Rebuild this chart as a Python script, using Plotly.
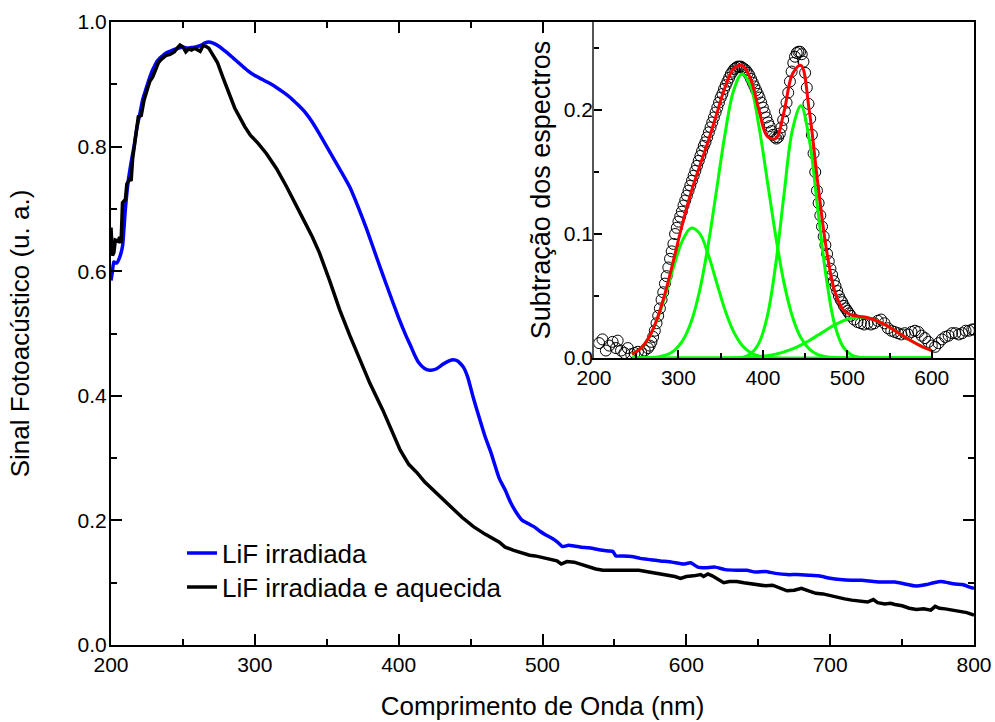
import plotly.graph_objects as go

# ---------------- main spectra ----------------
blue_x = [200, 201, 202, 204, 206, 208, 210, 212, 214, 216, 218, 220, 222, 224, 226, 228, 230, 232, 235, 238,
          241, 244, 247, 250, 253, 256, 259, 262, 265, 268, 271, 275, 280, 285, 290, 295, 300, 305, 310, 315,
          320, 325, 330, 335, 340, 345, 350, 355, 360, 366, 372, 378, 385, 392, 400, 405, 408, 411, 414, 418,
          422, 426, 431, 435, 438, 441, 445, 448, 452, 456, 460, 464, 470, 474, 478, 482, 486, 490, 494, 498,
          502, 506, 510, 514, 518, 522, 527, 532, 537, 542, 546, 549, 551, 556, 562, 568, 575, 582, 590, 598,
          603, 608, 613, 620, 627, 635, 642, 648, 655, 662, 670, 677, 685, 692, 700, 707, 715, 722, 730, 737,
          745, 752, 758, 762, 767, 772, 777, 782, 787, 792, 797, 800]
blue_y = [0.585, 0.600, 0.615, 0.613, 0.622, 0.640, 0.700, 0.745, 0.775, 0.800, 0.830, 0.852, 0.875, 0.890, 0.905, 0.918, 0.928, 0.937, 0.944, 0.950,
          0.953, 0.956, 0.958, 0.960, 0.958, 0.959, 0.960, 0.962, 0.966, 0.968, 0.966, 0.961, 0.952, 0.942, 0.932, 0.922, 0.914, 0.908, 0.902, 0.895,
          0.887, 0.878, 0.867, 0.855, 0.839, 0.820, 0.800, 0.780, 0.760, 0.735, 0.702, 0.666, 0.620, 0.575, 0.525, 0.497, 0.482, 0.466, 0.453, 0.444,
          0.441, 0.443, 0.451, 0.456, 0.458, 0.456, 0.446, 0.430, 0.396, 0.365, 0.335, 0.310, 0.267, 0.249, 0.228, 0.212, 0.200, 0.195, 0.190, 0.183,
          0.177, 0.172, 0.166, 0.158, 0.160, 0.159, 0.157, 0.156, 0.154, 0.152, 0.151, 0.150, 0.143, 0.143, 0.142, 0.139, 0.137, 0.135, 0.133, 0.130,
          0.132, 0.125, 0.124, 0.125, 0.121, 0.120, 0.120, 0.117, 0.118, 0.115, 0.113, 0.113, 0.112, 0.111, 0.107, 0.105, 0.104, 0.104, 0.102, 0.101,
          0.101, 0.098, 0.095, 0.095, 0.097, 0.100, 0.102, 0.100, 0.098, 0.097, 0.093, 0.091]

black_x = [200, 201, 202, 203, 205, 206, 207, 208, 210, 211, 213, 214, 215, 217, 219, 221, 223, 225, 227, 229,
           231, 233, 235, 238, 241, 244, 246, 248, 250, 252, 254, 256, 258, 260, 262, 264, 266, 268, 270, 274,
           278, 282, 286, 290, 293, 297, 302, 308, 315, 322, 328, 334, 340, 345, 352, 359, 366, 373, 380, 389,
           395, 401, 407, 413, 418, 424, 430, 436, 444, 452, 460, 470, 474, 480, 485, 491, 495, 500, 505, 510,
           513, 517, 522, 527, 532, 537, 542, 547, 552, 557, 562, 567, 572, 577, 582, 587, 592, 596, 600, 605,
           610, 612, 615, 618, 622, 626, 630, 635, 640, 645, 650, 655, 660, 665, 670, 675, 680, 685, 690, 695,
           700, 705, 710, 715, 720, 726, 730, 733, 738, 742, 745, 750, 755, 760, 765, 770, 773, 776, 780, 785,
           790, 795, 800]
black_y = [0.670, 0.625, 0.630, 0.650, 0.648, 0.655, 0.645, 0.710, 0.715, 0.740, 0.748, 0.745, 0.780, 0.810, 0.848, 0.850, 0.875, 0.890, 0.905, 0.912,
           0.922, 0.935, 0.940, 0.946, 0.948, 0.952, 0.958, 0.963, 0.960, 0.952, 0.957, 0.955, 0.958, 0.956, 0.953, 0.962, 0.961, 0.958, 0.950, 0.935,
           0.910, 0.885, 0.862, 0.845, 0.832, 0.818, 0.806, 0.789, 0.765, 0.736, 0.710, 0.682, 0.655, 0.629, 0.585, 0.538, 0.497, 0.457, 0.420, 0.377,
           0.345, 0.313, 0.290, 0.276, 0.262, 0.249, 0.236, 0.222, 0.205, 0.190, 0.178, 0.165, 0.157, 0.152, 0.148, 0.144, 0.143, 0.140, 0.137, 0.135,
           0.130, 0.134, 0.133, 0.129, 0.126, 0.122, 0.120, 0.120, 0.121, 0.120, 0.121, 0.120, 0.118, 0.116, 0.114, 0.112, 0.110, 0.107, 0.110, 0.111,
           0.113, 0.110, 0.114, 0.111, 0.106, 0.100, 0.102, 0.102, 0.100, 0.098, 0.097, 0.095, 0.096, 0.092, 0.087, 0.088, 0.091, 0.087, 0.083, 0.082,
           0.079, 0.077, 0.074, 0.072, 0.071, 0.069, 0.073, 0.068, 0.066, 0.067, 0.065, 0.063, 0.059, 0.057, 0.058, 0.056, 0.062, 0.059, 0.058, 0.056,
           0.054, 0.052, 0.048]

# ---------------- inset: difference spectrum ----------------
diff_x = [206, 210, 214, 218, 222, 226, 228, 232, 236, 240, 244, 248, 252, 256, 260, 264, 266, 268, 270, 272,
          274, 276, 278, 280, 282, 284, 286, 288, 290, 292, 294, 296, 298, 300, 302, 304, 306, 308, 310, 312,
          314, 316, 318, 320, 322, 324, 326, 328, 330, 332, 334, 336, 338, 340, 342, 344, 346, 348, 350, 352,
          354, 356, 358, 360, 362, 364, 366, 368, 370, 372, 374, 376, 378, 380, 382, 384, 386, 388, 390, 392,
          394, 396, 398, 400, 402, 404, 406, 408, 410, 412, 414, 416, 418, 420, 422, 424, 426, 428, 430, 432,
          434, 436, 438, 440, 442, 444, 446, 448, 450, 452, 454, 456, 458, 460, 462, 464, 466, 468, 470, 472,
          474, 476, 478, 480, 482, 484, 486, 488, 490, 492, 494, 496, 498, 500, 502, 504, 508, 512, 516, 520,
          524, 528, 532, 536, 540, 544, 548, 552, 556, 560, 564, 568, 572, 576, 580, 584, 588, 592, 596, 600,
          604, 608, 612, 616, 620, 624, 628, 632, 636, 640, 644, 648, 650]
diff_y = [0.012, 0.015, 0.006, 0.010, 0.013, 0.008, 0.014, 0.006, 0.004, 0.008, 0.003, 0.004, 0.005, 0.004, 0.006, 0.008, 0.010, 0.013, 0.017, 0.022,
          0.028, 0.034, 0.040, 0.047, 0.053, 0.060, 0.066, 0.073, 0.080, 0.086, 0.092, 0.100, 0.105, 0.110, 0.114, 0.118, 0.123, 0.127, 0.131, 0.135,
          0.139, 0.143, 0.147, 0.151, 0.155, 0.159, 0.163, 0.167, 0.171, 0.174, 0.178, 0.182, 0.186, 0.190, 0.194, 0.198, 0.202, 0.206, 0.210, 0.213,
          0.217, 0.220, 0.223, 0.226, 0.229, 0.231, 0.233, 0.234, 0.235, 0.235, 0.235, 0.234, 0.233, 0.232, 0.230, 0.228, 0.225, 0.222, 0.219, 0.216,
          0.213, 0.210, 0.206, 0.202, 0.198, 0.194, 0.190, 0.187, 0.183, 0.180, 0.178, 0.177, 0.178, 0.181, 0.186, 0.192, 0.199, 0.206, 0.214, 0.223,
          0.231, 0.238, 0.243, 0.246, 0.247, 0.247, 0.245, 0.239, 0.230, 0.218, 0.205, 0.193, 0.180, 0.165, 0.150, 0.135, 0.125, 0.115, 0.106, 0.098,
          0.091, 0.084, 0.078, 0.072, 0.067, 0.062, 0.058, 0.054, 0.050, 0.047, 0.045, 0.042, 0.040, 0.038, 0.036, 0.034, 0.031, 0.029, 0.028, 0.027,
          0.028, 0.027, 0.028, 0.030, 0.031, 0.028, 0.024, 0.022, 0.021, 0.020, 0.019, 0.020, 0.019, 0.021, 0.022, 0.021, 0.018, 0.016, 0.013, 0.010,
          0.009, 0.012, 0.015, 0.017, 0.018, 0.020, 0.020, 0.019, 0.020, 0.022, 0.022, 0.023, 0.023]

fit_x = [245, 255, 265, 275, 285, 295, 305, 315, 325, 335, 345, 355, 365, 375, 385, 395, 405, 415, 425, 435,
         445, 455, 465, 475, 485, 495, 505, 515, 525, 535, 545, 555, 565, 575, 585, 595, 600]
peak1_y = [0.003, 0.0075, 0.0164, 0.0313, 0.052, 0.0753, 0.0951, 0.1047, 0.1005, 0.084, 0.0613, 0.039, 0.0216, 0.0105, 0.0044, 0.0016, 0.0005, 0.0001, 0, 0,
           0, 0, 0, 0, 0, 0, 0, 0, 0, 0, 0, 0, 0, 0, 0, 0, 0]
peak2_y = [0, 0.0001, 0.0002, 0.0008, 0.0023, 0.006, 0.014, 0.029, 0.054, 0.0904, 0.135, 0.180, 0.215, 0.229, 0.220, 0.188, 0.144, 0.099, 0.0606, 0.0333,
           0.0163, 0.0072, 0.0028, 0.001, 0.0003, 0.0001, 0, 0, 0, 0, 0, 0, 0, 0, 0, 0, 0]
peak3_y = [0, 0, 0, 0, 0, 0, 0, 0, 0, 0, 0, 0, 0, 0.0003, 0.0032, 0.0116, 0.033, 0.0746, 0.132, 0.184,
           0.2035, 0.176, 0.12, 0.065, 0.027, 0.009, 0.0024, 0.0005, 0.0001, 0, 0, 0, 0, 0, 0, 0, 0]
peak4_y = [0, 0, 0, 0, 0, 0, 0, 0, 0, 0, 0, 0, 0.0001, 0.0003, 0.0006, 0.0011, 0.0019, 0.0031, 0.0049, 0.0073,
           0.0104, 0.0141, 0.0183, 0.0226, 0.0267, 0.030, 0.0322, 0.033, 0.0322, 0.030, 0.0267, 0.0226, 0.0183, 0.0141, 0.0104, 0.0073, 0.006]
fit_y = [0.003, 0.0076, 0.0166, 0.0321, 0.0543, 0.0813, 0.109, 0.1337, 0.1545, 0.1744, 0.1963, 0.218, 0.233, 0.236, 0.226, 0.201, 0.179, 0.177, 0.1985, 0.229,
         0.236, 0.199, 0.141, 0.0886, 0.054, 0.039, 0.0346, 0.0335, 0.0323, 0.030, 0.0267, 0.0226, 0.0183, 0.0141, 0.0104, 0.0073, 0.006]

main_x_ticks = [200, 300, 400, 500, 600, 700, 800]
main_y_ticks = [0.0, 0.2, 0.4, 0.6, 0.8, 1.0]
inset_x_ticks = [200, 300, 400, 500, 600]
inset_y_ticks = [0.0, 0.1, 0.2]

FONT = "Arial, Liberation Sans, sans-serif"

fig = go.Figure()
fig.add_trace(go.Scatter(x=blue_x, y=blue_y, mode="lines", name="LiF irradiada", legend="legend",
                         line=dict(color="#0000FF", width=3.5, shape="spline", smoothing=0.5), xaxis="x", yaxis="y"))
fig.add_trace(go.Scatter(x=black_x, y=black_y, mode="lines", name="LiF irradiada e aquecida", legend="legend2",
                         line=dict(color="#000000", width=3.5), xaxis="x", yaxis="y"))

fig.add_trace(go.Scatter(x=diff_x, y=diff_y, mode="markers", showlegend=False,
                         marker=dict(symbol="circle-open", size=11, color="black", line=dict(width=1, color="black")),
                         xaxis="x2", yaxis="y2"))
for gy in (peak1_y, peak2_y, peak3_y, peak4_y):
    fig.add_trace(go.Scatter(x=fit_x, y=gy, mode="lines", showlegend=False, line_shape="spline",
                             line=dict(color="#00FF00", width=3), xaxis="x2", yaxis="y2"))
fig.add_trace(go.Scatter(x=fit_x, y=fit_y, mode="lines", showlegend=False, line_shape="spline",
                         line=dict(color="#FF0000", width=3), xaxis="x2", yaxis="y2"))

axis_common = dict(showgrid=False, zeroline=False, ticks="inside", tickcolor="black", automargin=False,
                   color="black", tickfont=dict(family=FONT, size=21, color="black"))

legend_common = dict(xanchor="left", yanchor="middle", bgcolor="rgba(0,0,0,0)",
                     font=dict(family=FONT, size=26, color="black"))

fig.update_layout(
    width=995, height=722,
    margin=dict(l=111, r=21, t=22, b=77, autoexpand=False),
    paper_bgcolor="white", plot_bgcolor="white",
    font=dict(family=FONT, color="black"),
    xaxis=dict(**axis_common, range=[200, 800], tickvals=main_x_ticks, ticklen=11, tickwidth=2,
               showline=True, linecolor="black", linewidth=2, mirror="allticks",
               minor=dict(dtick=50, ticks="inside", ticklen=6, tickwidth=2, tickcolor="black"),
               title=dict(text="Comprimento de Onda (nm)", font=dict(family=FONT, size=26), standoff=22),
               domain=[0, 1]),
    yaxis=dict(**axis_common, range=[0, 1], tickvals=main_y_ticks, tickformat=".1f", ticklen=11, tickwidth=2,
               showline=True, linecolor="black", linewidth=2, mirror="allticks", ticklabelstandoff=-2,
               minor=dict(dtick=0.1, ticks="inside", ticklen=6, tickwidth=2, tickcolor="black"),
               title=dict(text="Sinal Fotoacústico (u. a.)", font=dict(family=FONT, size=26), standoff=40),
               domain=[0, 1]),
    xaxis2=dict(**axis_common, range=[200, 650], tickvals=inset_x_ticks, ticklen=8, tickwidth=1.5,
                showline=True, linecolor="black", linewidth=1.5, anchor="y2",
                minor=dict(dtick=50, ticks="inside", ticklen=5, tickwidth=1.5, tickcolor="black"),
                domain=[0.5597, 1.0]),
    yaxis2=dict(**axis_common, range=[0, 0.271], tickvals=inset_y_ticks, tickformat=".1f", ticklen=8, tickwidth=1.5,
                showline=True, linecolor="#555555", linewidth=1.5, anchor="x2", ticklabelstandoff=-5,
                minor=dict(dtick=0.05, ticks="inside", ticklen=5, tickwidth=1.5, tickcolor="black"),
                title=dict(text="Subtração dos espectros", font=dict(family=FONT, size=27), standoff=5),
                domain=[0.4607, 1.0]),
    legend=dict(x=0.0823, y=0.1477, **legend_common),
    legend2=dict(x=0.0823, y=0.0931, **legend_common),
    showlegend=True,
)

fig.write_html("out.html", config={"displayModeBar": False},
               post_script="document.body.style.margin='0px';document.documentElement.style.overflow='hidden';")
